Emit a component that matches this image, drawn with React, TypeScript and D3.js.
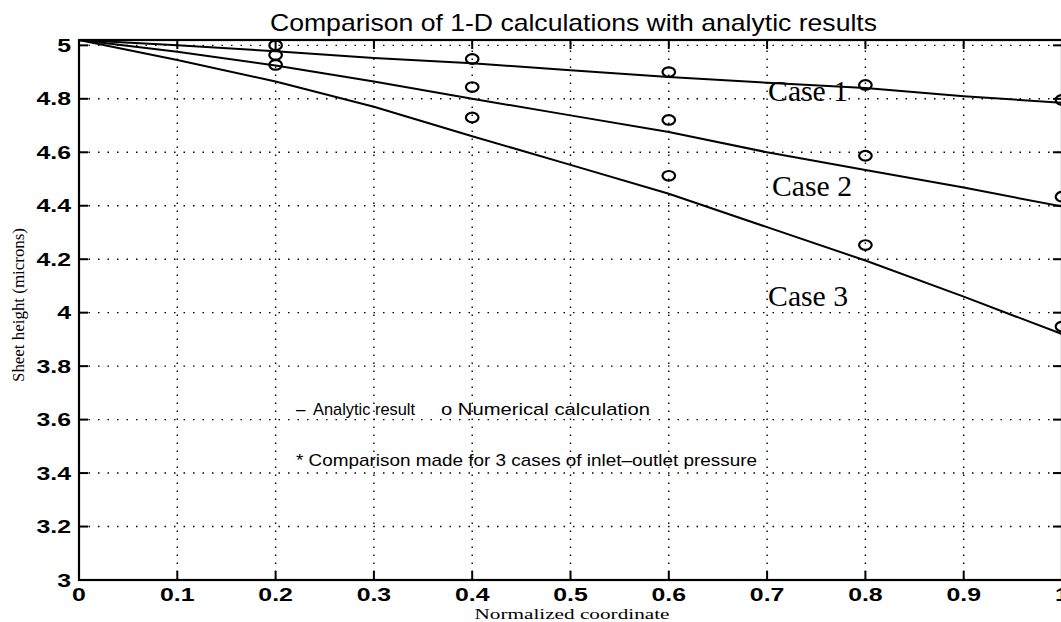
import React from "react";
import * as d3 from "d3";

// ---------- data ----------
const xCoords = [0, 0.1, 0.2, 0.3, 0.4, 0.5, 0.6, 0.7, 0.8, 0.9, 1.0];
const analyticCase1 = [5.02, 5.0, 4.978, 4.953, 4.933, 4.907, 4.882, 4.86, 4.84, 4.81, 4.785];
const analyticCase2 = [5.02, 4.976, 4.925, 4.865, 4.8, 4.738, 4.676, 4.6, 4.534, 4.468, 4.397];
const analyticCase3 = [5.02, 4.945, 4.865, 4.77, 4.66, 4.553, 4.445, 4.32, 4.195, 4.06, 3.92];

const numX = [0.2, 0.4, 0.6, 0.8, 1.0];
const numCase1 = [5.0, 4.949, 4.9, 4.852, 4.796];
const numCase2 = [4.964, 4.844, 4.721, 4.587, 4.434];
const numCase3 = [4.927, 4.73, 4.512, 4.253, 3.948];

const xTicks = [0, 0.1, 0.2, 0.3, 0.4, 0.5, 0.6, 0.7, 0.8, 0.9, 1];
const xTickLabels = ["0", "0.1", "0.2", "0.3", "0.4", "0.5", "0.6", "0.7", "0.8", "0.9", "1"];
const yTicks = [3, 3.2, 3.4, 3.6, 3.8, 4, 4.2, 4.4, 4.6, 4.8, 5];
const yTickLabels = ["3", "3.2", "3.4", "3.6", "3.8", "4", "4.2", "4.4", "4.6", "4.8", "5"];

const caseLabels = ["Case 1", "Case 2", "Case 3"];
const caseLabelPos = [
  { x: 0.701, y: 4.79 },
  { x: 0.705, y: 4.437 },
  { x: 0.701, y: 4.025 },
];

const title = "Comparison of 1-D calculations with analytic results";
const xLabel = "Normalized coordinate";
const yLabel = "Sheet height (microns)";

// ---------- layout ----------
const W = 1061;
const H = 622;
const L = 79;
const R = 1062;
const T = 40;
const B = 580;

const sans = "'Liberation Sans', Arial, Helvetica, sans-serif";
const serif = "'Liberation Serif', 'Times New Roman', serif";

export default function App() {
  const x = d3.scaleLinear().domain([0, 1]).range([L, R]);
  const y = d3.scaleLinear().domain([3, 5.02]).range([B, T]);

  const line = d3
    .line<number>()
    .x((_, i) => x(xCoords[i]))
    .y((d) => y(d));

  const series = [analyticCase1, analyticCase2, analyticCase3];
  const nums = [numCase1, numCase2, numCase3];
  const tickLen = 9;
  const sx = 1.38;

  return (
    <svg
      width={W}
      height={H}
      style={{ position: "absolute", left: 0, top: 0, background: "#fff" }}
    >
      <rect x={0} y={0} width={W} height={H} fill="#fff" />

      {/* title */}
      <text
        x={270}
        y={31}
        fontFamily={sans}
        fontSize={24}
        textLength={607}
        lengthAdjust="spacingAndGlyphs"
        fill="#000"
      >
        {title}
      </text>

      {/* grid */}
      <g stroke="#000" strokeWidth={1.4} fill="none">
        {xTicks.slice(1, -1).map((t) => (
          <line
            key={"gx" + t}
            x1={x(t)}
            x2={x(t)}
            y1={B}
            y2={T}
            strokeDasharray="1.5,6.5"
          />
        ))}
        {yTicks.slice(1).map((t) => (
          <line
            key={"gy" + t}
            x1={L}
            x2={R}
            y1={y(t)}
            y2={y(t)}
            strokeDasharray="1.5,8"
          />
        ))}
      </g>

      {/* ticks */}
      <g stroke="#000" strokeWidth={2}>
        {xTicks.map((t) => (
          <g key={"tx" + t}>
            <line x1={x(t)} x2={x(t)} y1={B} y2={B - tickLen} />
            <line x1={x(t)} x2={x(t)} y1={T} y2={T + tickLen} />
          </g>
        ))}
        {yTicks.map((t) => (
          <g key={"ty" + t}>
            <line x1={L} x2={L + tickLen} y1={y(t)} y2={y(t)} />
            <line x1={R} x2={R - tickLen} y1={y(t)} y2={y(t)} />
          </g>
        ))}
      </g>

      {/* box */}
      <rect
        x={L}
        y={T}
        width={R - L}
        height={B - T}
        fill="none"
        stroke="#000"
        strokeWidth={2.2}
      />

      {/* tick labels */}
      {yTicks.map((t, i) => (
        <text
          key={"yl" + t}
          transform={`translate(${L - 8},${y(t) + 6.5}) scale(${sx},1)`}
          textAnchor="end"
          fontFamily={sans}
          fontWeight="bold"
          fontSize={18}
          fill="#000"
        >
          {yTickLabels[i]}
        </text>
      ))}
      {xTicks.map((t, i) => (
        <text
          key={"xl" + t}
          transform={`translate(${x(t)},${601}) scale(${sx},1)`}
          textAnchor="middle"
          fontFamily={sans}
          fontWeight="bold"
          fontSize={18}
          fill="#000"
        >
          {xTickLabels[i]}
        </text>
      ))}

      {/* analytic lines */}
      {series.map((s, i) => (
        <path
          key={"ln" + i}
          d={line(s) || ""}
          fill="none"
          stroke="#000"
          strokeWidth={2}
        />
      ))}

      {/* numerical points */}
      {nums.map((s, i) =>
        s.map((v, j) => (
          <ellipse
            key={"pt" + i + "-" + j}
            cx={x(numX[j])}
            cy={y(v)}
            rx={6.3}
            ry={4.8}
            fill="none"
            stroke="#000"
            strokeWidth={2.2}
          />
        ))
      )}

      {/* case labels */}
      {caseLabels.map((c, i) => (
        <text
          key={c}
          x={x(caseLabelPos[i].x)}
          y={y(caseLabelPos[i].y)}
          fontFamily={serif}
          fontSize={29}
          textLength={80}
          lengthAdjust="spacingAndGlyphs"
          fill="#000"
        >
          {c}
        </text>
      ))}

      {/* legend texts */}
      <g fontFamily={sans} fontSize={17} fill="#000">
        <text x={296} y={415}>
          –
        </text>
        <text x={313} y={415} textLength={102} lengthAdjust="spacingAndGlyphs">
          Analytic result
        </text>
        <text x={441} y={415} textLength={209} lengthAdjust="spacingAndGlyphs">
          o Numerical calculation
        </text>
        <text x={296} y={466} textLength={461} lengthAdjust="spacingAndGlyphs">
          * Comparison made for 3 cases of inlet–outlet pressure
        </text>
      </g>

      {/* axis labels */}
      <text
        x={572}
        y={619}
        textAnchor="middle"
        fontFamily={serif}
        fontSize={15}
        textLength={195}
        lengthAdjust="spacingAndGlyphs"
        fill="#000"
      >
        {xLabel}
      </text>
      <text
        transform={`translate(24,305) rotate(-90)`}
        textAnchor="middle"
        fontFamily={serif}
        fontSize={16}
        textLength={154}
        lengthAdjust="spacingAndGlyphs"
        fill="#000"
      >
        {yLabel}
      </text>
    </svg>
  );
}
